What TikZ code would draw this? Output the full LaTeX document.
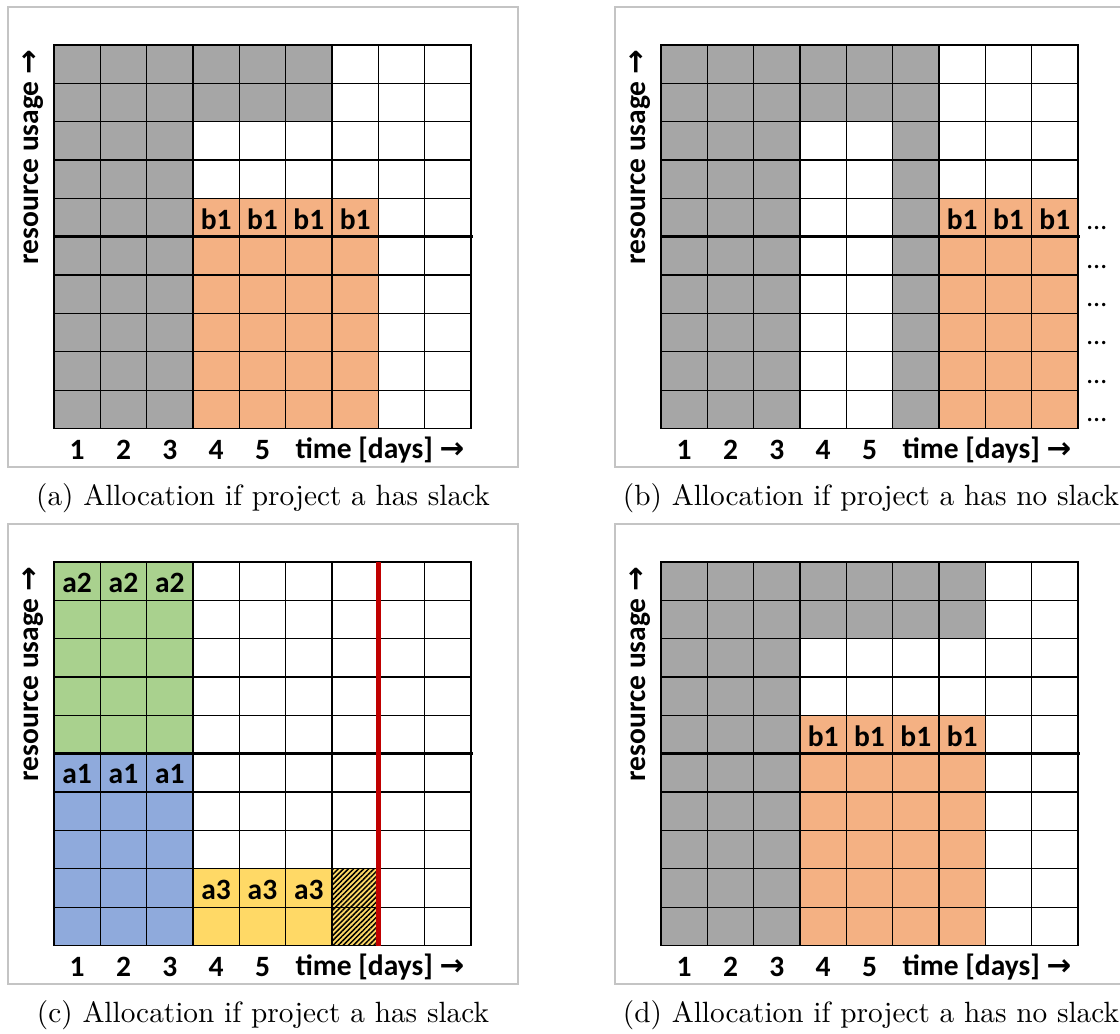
\documentclass[tikz,border=0pt]{standalone}
\usepackage{fontspec}
\newfontfamily\calib{Carlito}
\newfontfamily\arrfont{DejaVu Sans}
\usetikzlibrary{patterns.meta}
\definecolor{cgray}{HTML}{A6A6A6}
\definecolor{corange}{HTML}{F4B183}
\definecolor{cgreen}{HTML}{A9D18E}
\definecolor{cblue}{HTML}{8FAADC}
\definecolor{cyellow}{HTML}{FFD966}
\definecolor{cred}{HTML}{C00000}
\definecolor{cframe}{HTML}{C4C4C4}
\newcommand\cw{46.33}
\newcommand\ch{38.35}
% fill block from (col #2,row #3) to (col #4,row #5)
\newcommand\blockfill[5]{\fill[#1] ({(#2-1)*\cw},{(#3-1)*\ch}) rectangle ({#4*\cw},{#5*\ch});}
\newcommand\celltext[4]{\node[lbl] (#1) at ({(#2-0.5)*\cw},{(#3-0.5)*\ch+1.5}) {#4};}
\newcommand\gridbase[1]{%
  \foreach \i in {0,...,9} \draw[gridline] ({\i*\cw},0) -- ({\i*\cw},{10*\ch});
  \foreach \j in {0,...,10} \draw[gridline] (0,{\j*\ch}) -- ({9*\cw},{\j*\ch});
  \draw[thickline] (0,{5*\ch}) -- ({9*\cw+2},{5*\ch});
  \foreach \k in {1,...,5} \node[lbl] (#1-n\k) at ({(\k-0.5)*\cw},405) {\k};
  \node[lbl] (#1-time) at (326,405) {time [days] {\arrfont\bfseries →}};
  \node[lbl, rotate=90] (#1-res) at (-21,112) {resource usage {\arrfont\bfseries →}};
}
\tikzset{
  gridline/.style={black, line width=1.3pt, line cap=rect},
  thickline/.style={black, line width=2.6pt},
  lbl/.style={font=\calib\bfseries\fontsize{29.5}{31}\selectfont, inner sep=0pt, text=black},
  framebox/.style={draw=cframe, line width=1.1pt},
  captext/.style={inner sep=0pt, text=black},
  dots/.style={font=\calib\fontsize{28}{30}\selectfont, inner sep=0pt, anchor=base west},
}
\begin{document}
\begin{tikzpicture}[x=1pt,y=-1pt]
\useasboundingbox (0,0) rectangle (1120,1034);
\fill[white] (0,0) rectangle (1120,1034);
% frames
\draw[framebox] (8,7) rectangle (518,467);
\draw[framebox] (615,7) rectangle (1127,467);
\draw[framebox] (8,524) rectangle (518,984);
\draw[framebox] (615,524) rectangle (1127,984);
% panel a
\begin{scope}[shift={(54,45)}]
  \blockfill{cgray}{1}{1}{3}{10}
  \blockfill{cgray}{4}{1}{6}{2}
  \blockfill{corange}{4}{5}{7}{10}
  \gridbase{a}
  \celltext{a-b4}{4}{5}{b1}
  \celltext{a-b5}{5}{5}{b1}
  \celltext{a-b6}{6}{5}{b1}
  \celltext{a-b7}{7}{5}{b1}
\end{scope}
% panel b
\begin{scope}[shift={(661,45)}]
  \blockfill{cgray}{1}{1}{3}{10}
  \blockfill{cgray}{4}{1}{5}{2}
  \blockfill{cgray}{6}{1}{6}{10}
  \blockfill{corange}{7}{5}{9}{10}
  \gridbase{b}
  \celltext{b-b7}{7}{5}{b1}
  \celltext{b-b8}{8}{5}{b1}
  \celltext{b-b9}{9}{5}{b1}
  \foreach \r in {5,...,10} \node[dots] (b-dots\r) at ({9*\cw+9},{\r*\ch-7}) {…};
\end{scope}
% panel c
\begin{scope}[shift={(54,562)}]
  \blockfill{cgreen}{1}{1}{3}{5}
  \blockfill{cblue}{1}{6}{3}{10}
  \blockfill{cyellow}{4}{9}{7}{10}
  \fill[pattern={Lines[angle=45,distance=3.6pt,line width=1.5pt]}, pattern color=black] ({6*\cw},{8*\ch}) rectangle ({7*\cw},{10*\ch});
  \gridbase{c}
  \draw[cred, line width=5pt] ({7*\cw},0) -- ({7*\cw},{10*\ch});
  \celltext{c-a2a}{1}{1}{a2}
  \celltext{c-a2b}{2}{1}{a2}
  \celltext{c-a2c}{3}{1}{a2}
  \celltext{c-a1a}{1}{6}{a1}
  \celltext{c-a1b}{2}{6}{a1}
  \celltext{c-a1c}{3}{6}{a1}
  \celltext{c-a3a}{4}{9}{a3}
  \celltext{c-a3b}{5}{9}{a3}
  \celltext{c-a3c}{6}{9}{a3}
\end{scope}
% panel d
\begin{scope}[shift={(661,562)}]
  \blockfill{cgray}{1}{1}{3}{10}
  \blockfill{cgray}{4}{1}{7}{2}
  \blockfill{corange}{4}{5}{7}{10}
  \gridbase{d}
  \celltext{d-b4}{4}{5}{b1}
  \celltext{d-b5}{5}{5}{b1}
  \celltext{d-b6}{6}{5}{b1}
  \celltext{d-b7}{7}{5}{b1}
\end{scope}
% captions
\node[captext] (cap-a) at (263,498) {\scalebox{2.93}{(a) Allocation if project a has slack}};
\node[captext] (cap-b) at (871,498) {\scalebox{2.93}{(b) Allocation if project a has no slack}};
\node[captext] (cap-c) at (263,1015) {\scalebox{2.93}{(c) Allocation if project a has slack}};
\node[captext] (cap-d) at (871,1015) {\scalebox{2.93}{(d) Allocation if project a has no slack}};
\end{tikzpicture}
\end{document}
